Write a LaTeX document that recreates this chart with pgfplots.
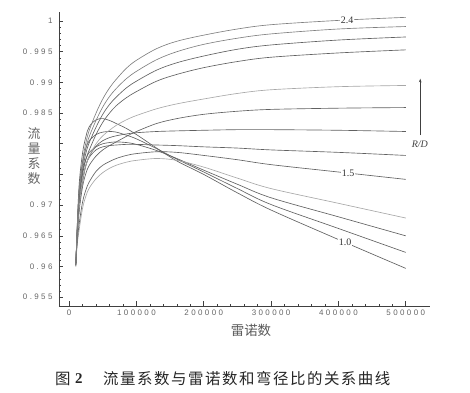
\documentclass[border=0pt]{standalone}
\usepackage{fontspec}
\usepackage{pgfplots}
\usepackage{pgfplotstable}
\pgfplotsset{compat=1.18}
\usetikzlibrary{arrows.meta}
\setmainfont{Liberation Serif}
\newfontfamily\cjk{Noto Sans CJK SC}
\newfontfamily\cjkcap[LetterSpace=10]{Noto Sans CJK SC}
\newfontfamily\tickfont[LetterSpace=30]{Liberation Sans}
\newfontfamily\lblfont{Liberation Serif}
\definecolor{dk}{gray}{0.38}
\definecolor{md}{gray}{0.5}
\definecolor{lt}{gray}{0.66}

\pgfplotstableread{
Re k0 k1 k2 k3 k4 k5 k6 k7 k8 k9 k10 k11 k12
10000 0.9600 0.9601 0.9602 0.9603 0.9603 0.9603 0.9603 0.9603 0.9604 0.9605 0.9605 0.9605 0.9605
12000 0.9665 0.9660 0.9655 0.9635 0.9640 0.9650 0.9648 0.9645 0.9648 0.9655 0.9658 0.9660 0.9663
15000 0.9735 0.9725 0.9715 0.9660 0.9670 0.9700 0.9695 0.9690 0.9697 0.9710 0.9715 0.9720 0.9725
20000 0.9785 0.9770 0.9755 0.9695 0.9705 0.9740 0.9738 0.9730 0.9740 0.9750 0.9758 0.9765 0.9772
25000 0.9812 0.9793 0.9775 0.9715 0.9725 0.9765 0.9765 0.9752 0.9765 0.9775 0.9785 0.9793 0.9802
30000 0.9828 0.9805 0.9786 0.9728 0.9738 0.9778 0.9780 0.9765 0.9780 0.9790 0.9802 0.9812 0.9822
40000 0.9839 0.9815 0.9795 0.9743 0.9755 0.9790 0.9796 0.9780 0.9800 0.9815 0.9827 0.9838 0.9850
50000 0.9841 0.9819 0.9800 0.9753 0.9765 0.9795 0.9805 0.9790 0.9813 0.9835 0.9848 0.9860 0.9873
60000 0.9838 0.9820 0.9802 0.9760 0.9771 0.9797 0.9810 0.9797 0.9822 0.9850 0.9864 0.9877 0.9891
70000 0.9833 0.9819 0.9803 0.9765 0.9776 0.9798 0.9813 0.9803 0.9830 0.9862 0.9876 0.9890 0.9905
85000 0.9825 0.9814 0.9802 0.9770 0.9781 0.9799 0.9816 0.9812 0.9839 0.9875 0.9891 0.9906 0.9923
100000 0.9815 0.9808 0.9799 0.9773 0.9784 0.9799 0.9818 0.9820 0.9846 0.9885 0.9902 0.9918 0.9936
130000 0.9793 0.9792 0.9789 0.9776 0.9787 0.9798 0.9820 0.9833 0.9857 0.9902 0.9920 0.9937 0.9955
160000 0.9772 0.9775 0.9776 0.9773 0.9786 0.9797 0.9821 0.9841 0.9865 0.9913 0.9932 0.9950 0.9967
200000 0.9750 0.9754 0.9757 0.9762 0.9781 0.9795 0.9822 0.9848 0.9873 0.9924 0.9943 0.9962 0.9977
250000 0.9720 0.9727 0.9734 0.9744 0.9774 0.9793 0.9823 0.9853 0.9882 0.9934 0.9954 0.9972 0.9987
300000 0.9692 0.9701 0.9712 0.9727 0.9766 0.9790 0.9823 0.9856 0.9888 0.9941 0.9961 0.9979 0.9994
400000 0.9644 0.9662 0.9681 0.9703 0.9754 0.9786 0.9822 0.9858 0.9893 0.9948 0.9969 0.9987 1.0001
500000 0.9597 0.9623 0.9650 0.9679 0.9742 0.9781 0.9820 0.9859 0.9895 0.9953 0.9974 0.9991 1.0006
}\data

\newcommand{\PX}[2]{([xshift=#1bp-59bp, yshift=306bp-#2bp]SW)}

\begin{document}
\begin{tikzpicture}
\begin{axis}[
  scale only axis, width=371bp, height=294bp,
  xmin=-15000, xmax=536000, ymin=0.95357, ymax=1.00147,
  axis lines*=left,
  axis line style={line width=1pt, black!75},
  tick align=inside,
  major tick length=4.5bp, minor tick length=2.2bp,
  tick style={black!75, line width=0.6pt},
  xtick={0,100000,200000,300000,400000,500000},
  xticklabels={0,100000,200000,300000,400000,500000},
  ytick={0.955,0.96,0.965,0.97,0.975,0.98,0.985,0.99,0.995,1},
  yticklabels={0.955,0.96,0.965,0.97,,,0.985,0.99,0.995,1},
  minor x tick num=4, minor y tick num=4,
  scaled x ticks=false, scaled y ticks=false,
  xticklabel style={font=\tickfont\fontsize{8}{8}\selectfont, text=black!60},
  yticklabel style={font=\tickfont\fontsize{8}{8}\selectfont, text=black!60, xshift=-3bp},
  every axis plot/.append style={no markers, smooth, tension=0.55, line width=0.65pt},
]
\addplot[dk] table[x=Re, y=k0] {\data};
\addplot[dk] table[x=Re, y=k1] {\data};
\addplot[dk] table[x=Re, y=k2] {\data};
\addplot[lt] table[x=Re, y=k3] {\data};
\addplot[dk] table[x=Re, y=k4] {\data};
\addplot[dk] table[x=Re, y=k5] {\data};
\addplot[dk] table[x=Re, y=k6] {\data};
\addplot[dk] table[x=Re, y=k7] {\data};
\addplot[lt] table[x=Re, y=k8] {\data};
\addplot[dk] table[x=Re, y=k9] {\data};
\addplot[dk] table[x=Re, y=k10] {\data};
\addplot[md] table[x=Re, y=k11] {\data};
\addplot[md] table[x=Re, y=k12] {\data};
\node[fill=white, inner sep=0.8pt, font=\lblfont\fontsize{10}{10}\selectfont, text=black!80] at (axis cs:413000,1.0002) {2.4};
\node[fill=white, inner sep=0.8pt, font=\lblfont\fontsize{10}{10}\selectfont, text=black!80] at (axis cs:414500,0.9752) {1.5};
\node[fill=white, inner sep=0.8pt, font=\lblfont\fontsize{10}{10}\selectfont, text=black!80] at (axis cs:410000,0.9639) {1.0};
\draw[-{Stealth[length=3.5bp,width=2.5bp]}, line width=0.6pt, black!75] (axis cs:521500,0.9814) -- (axis cs:521500,0.9906);
\node[font=\lblfont\itshape\fontsize{10}{10}\selectfont, text=black!75] at (axis cs:521000,0.97996) {R/D};
\coordinate (SW) at (rel axis cs:0,0);
\end{axis}
\node[font=\cjk\fontsize{13}{15}\selectfont, text=black!60, align=center] at \PX{34}{156} {流\\量\\系\\数};
\node[font=\cjk\fontsize{13.5}{14}\selectfont, text=black!65] at \PX{251}{330} {雷诺数};
\node[anchor=west, inner sep=0pt, font=\cjk\fontsize{15.5}{16}\selectfont, text=black!85] at \PX{55}{379} {图};
\node[anchor=west, inner sep=0pt, font=\lblfont\bfseries\fontsize{15}{16}\selectfont, text=black!85] at \PX{75}{379} {2};
\node[anchor=west, inner sep=0pt, font=\cjkcap\fontsize{15.5}{16}\selectfont, text=black!85] at \PX{103}{379} {流量系数与雷诺数和弯径比的关系曲线};
\pgfresetboundingbox
\path[use as bounding box] ([xshift=-59bp, yshift=-87bp]SW) rectangle ++(470bp,393bp);
\end{tikzpicture}
\end{document}
